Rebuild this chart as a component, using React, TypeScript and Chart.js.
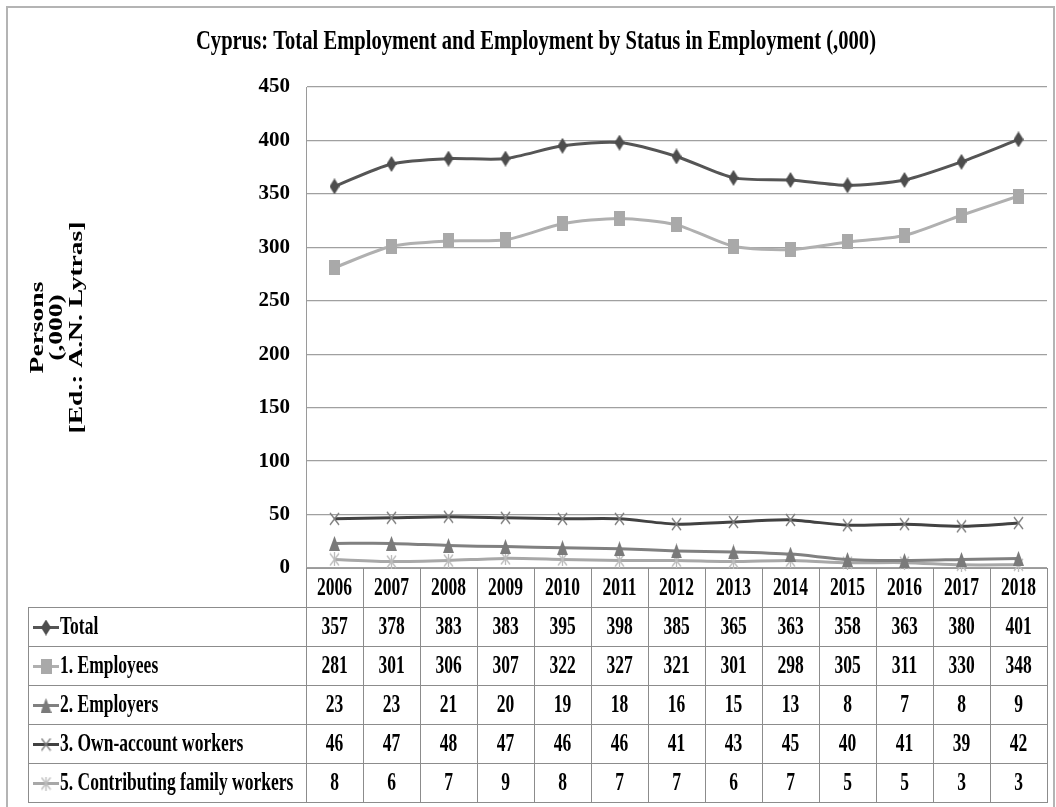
import React, { useEffect, useRef } from 'react';
import { Chart, registerables } from 'chart.js';

Chart.register(...registerables);

const TITLE = 'Cyprus: Total Employment and Employment by Status in Employment (,000)';
const Y_TITLE = ['Persons', '(,000)', '[Ed.: A.N. Lytras]'];

const years = ['2006', '2007', '2008', '2009', '2010', '2011', '2012', '2013', '2014', '2015', '2016', '2017', '2018'];
const total = [357, 378, 383, 383, 395, 398, 385, 365, 363, 358, 363, 380, 401];
const employees = [281, 301, 306, 307, 322, 327, 321, 301, 298, 305, 311, 330, 348];
const employers = [23, 23, 21, 20, 19, 18, 16, 15, 13, 8, 7, 8, 9];
const ownAccount = [46, 47, 48, 47, 46, 46, 41, 43, 45, 40, 41, 39, 42];
const familyWorkers = [8, 6, 7, 9, 8, 7, 7, 6, 7, 5, 5, 3, 3];

const seriesNames = ['Total', '1. Employees', '2. Employers', '3. Own-account workers', '5. Contributing family workers'];
const seriesValues = [total, employees, employers, ownAccount, familyWorkers];
const seriesColors = ['#555555', '#b0b0b0', '#808080', '#424242', '#a8a8a8'];
const markerColors = ['#4d4d4d', '#a9a9a9', '#7a7a7a', '#7c7c7c', '#bcbcbc'];
const markerKinds = ['diamond', 'square', 'triangle', 'x', 'star'];

const Y_MIN = 0;
const Y_MAX = 450;
const Y_STEP = 50;

const SERIF = "'Liberation Serif', 'Times New Roman', serif";

function makeMarker(kind: string, color: string): HTMLCanvasElement {
  const sizes: Record<string, [number, number]> = {
    diamond: [10, 16],
    square: [11, 15],
    triangle: [11, 15],
    x: [11, 14],
    star: [11, 14],
  };
  const [w, h] = sizes[kind];
  const c = document.createElement('canvas');
  c.width = w;
  c.height = h;
  const g = c.getContext('2d')!;
  g.fillStyle = color;
  g.strokeStyle = color;
  g.lineWidth = 1.3;
  g.beginPath();
  if (kind === 'diamond') {
    g.moveTo(w / 2, 0);
    g.lineTo(w, h / 2);
    g.lineTo(w / 2, h);
    g.lineTo(0, h / 2);
    g.closePath();
    g.fill();
  } else if (kind === 'square') {
    g.fillRect(0, 0, w, h);
  } else if (kind === 'triangle') {
    g.moveTo(w / 2, 0);
    g.lineTo(w, h);
    g.lineTo(0, h);
    g.closePath();
    g.fill();
  } else if (kind === 'x') {
    g.moveTo(1, 1);
    g.lineTo(w - 1, h - 1);
    g.moveTo(w - 1, 1);
    g.lineTo(1, h - 1);
    g.stroke();
  } else {
    g.moveTo(1, 1);
    g.lineTo(w - 1, h - 1);
    g.moveTo(w - 1, 1);
    g.lineTo(1, h - 1);
    g.moveTo(w / 2, 0);
    g.lineTo(w / 2, h);
    g.stroke();
  }
  return c;
}

function condensedText(
  ctx: CanvasRenderingContext2D,
  text: string,
  x: number,
  y: number,
  align: CanvasTextAlign,
  sx: number,
  baseline: CanvasTextBaseline = 'middle'
) {
  ctx.save();
  ctx.translate(x, y);
  ctx.scale(sx, 1);
  ctx.textAlign = align;
  ctx.textBaseline = baseline;
  ctx.fillText(text, 0, 0);
  ctx.restore();
}

export default function App() {
  const ref = useRef<HTMLCanvasElement | null>(null);

  useEffect(() => {
    const canvas = ref.current;
    if (!canvas) return;
    const markers = markerKinds.map((k, i) => makeMarker(k, markerColors[i]));

    const framePlugin = {
      id: 'frame',
      beforeDraw(chart: any) {
        const ctx = chart.ctx;
        ctx.save();
        ctx.fillStyle = '#ffffff';
        ctx.fillRect(0, 0, chart.width, chart.height);
        ctx.strokeStyle = '#b4b4b4';
        ctx.lineWidth = 2;
        ctx.strokeRect(7, 7, chart.width - 9, chart.height + 20);
        ctx.restore();
      },
    };

    const titlesPlugin = {
      id: 'titles',
      afterDraw(chart: any) {
        const ctx = chart.ctx as CanvasRenderingContext2D;
        const area = chart.chartArea;
        ctx.save();
        ctx.fillStyle = '#000000';
        // main title (condensed serif)
        ctx.font = `bold 28px ${SERIF}`;
        const tw = ctx.measureText(TITLE).width;
        condensedText(ctx, TITLE, 536, 49, 'center', 680 / tw, 'alphabetic');
        // y axis title, rotated, stretched along its length
        ctx.font = `bold 19px ${SERIF}`;
        const longest = ctx.measureText(Y_TITLE[2]).width;
        const stretch = 212 / longest;
        const cy = (area.top + area.bottom) / 2;
        const xs = [38, 57, 77];
        Y_TITLE.forEach((line, i) => {
          ctx.save();
          ctx.translate(xs[i], cy);
          ctx.rotate(-Math.PI / 2);
          ctx.scale(stretch, 1);
          ctx.textAlign = 'center';
          ctx.textBaseline = 'middle';
          ctx.fillText(line, 0, 0);
          ctx.restore();
        });
        ctx.restore();
      },
    };

    const tablePlugin = {
      id: 'dataTable',
      afterDraw(chart: any) {
        const ctx = chart.ctx as CanvasRenderingContext2D;
        const xs = chart.scales.x;
        const area = chart.chartArea;
        const n = years.length;
        const colW = xs.width / n;
        const top = area.bottom;
        const rows = seriesValues.length + 1;
        const rowH = (xs.bottom - top) / rows;
        const tableLeft = 28;
        const bottom = top + rowH * rows;

        ctx.save();
        ctx.strokeStyle = '#8c8c8c';
        ctx.lineWidth = 1;
        ctx.beginPath();
        for (let i = 0; i <= n; i++) {
          const x = Math.round(xs.left + i * colW) + 0.5;
          ctx.moveTo(x, top);
          ctx.lineTo(x, bottom);
        }
        const lx = tableLeft + 0.5;
        ctx.moveTo(lx, top + rowH);
        ctx.lineTo(lx, bottom);
        for (let r = 1; r <= rows; r++) {
          const y = Math.round(top + r * rowH) + 0.5;
          ctx.moveTo(tableLeft, y);
          ctx.lineTo(xs.right + 1, y);
        }
        ctx.stroke();

        ctx.fillStyle = '#000000';
        ctx.font = `bold 25px ${SERIF}`;
        // header row: the category labels of the x scale
        const labels = chart.data.labels as string[];
        labels.forEach((lab, i) => {
          condensedText(ctx, lab, xs.getPixelForValue(i), top + rowH / 2 + 1, 'center', 0.7);
        });
        seriesValues.forEach((vals, r) => {
          const cy = top + rowH * (r + 1) + rowH / 2 + 1;
          ctx.strokeStyle = seriesColors[r];
          ctx.lineWidth = 3;
          ctx.beginPath();
          ctx.moveTo(33, cy);
          ctx.lineTo(59, cy);
          ctx.stroke();
          const m = markers[r];
          ctx.drawImage(m, 46 - m.width / 2, cy - m.height / 2);
          ctx.fillStyle = '#000000';
          condensedText(ctx, seriesNames[r], 60, cy, 'left', 0.7);
          vals.forEach((v, i) => {
            condensedText(ctx, String(v), xs.getPixelForValue(i), cy, 'center', 0.7);
          });
        });
        ctx.restore();
      },
    };

    const chart = new Chart(canvas, {
      type: 'line',
      data: {
        labels: years,
        datasets: seriesValues.map((vals, i) => ({
          label: seriesNames[i],
          data: vals,
          borderColor: seriesColors[i],
          backgroundColor: seriesColors[i],
          borderWidth: 3,
          pointStyle: markers[i] as any,
          pointRadius: 6,
          tension: 0.25,
          clip: false as any,
        })),
      },
      options: {
        responsive: false,
        animation: false,
        layout: { padding: { left: 9, right: 1, top: 87, bottom: 5 } },
        plugins: {
          legend: { display: false },
          tooltip: { enabled: false },
          title: { display: false },
        },
        scales: {
          x: {
            type: 'category',
            offset: true,
            grid: { display: false },
            border: { display: true, color: '#9a9a9a', width: 1 },
            ticks: { display: false },
            afterFit: (s: any) => {
              s.height = 234;
            },
          },
          y: {
            min: Y_MIN,
            max: Y_MAX,
            ticks: {
              stepSize: Y_STEP,
              color: '#000000',
              font: { family: SERIF, size: 21, weight: 'bold' },
              padding: 16,
            },
            grid: { color: '#a0a0a0', drawTicks: false, lineWidth: 1.3 },
            border: { display: true, color: '#9a9a9a', width: 1 },
            afterFit: (s: any) => {
              s.width = 297;
            },
          },
        },
      },
      plugins: [framePlugin, tablePlugin, titlesPlugin],
    });

    return () => {
      chart.destroy();
    };
  }, []);

  return (
    <div style={{ position: 'absolute', left: 0, top: 0, width: 1056, height: 807, overflow: 'hidden' }}>
      <canvas ref={ref} width={1056} height={807} style={{ width: 1056, height: 807, display: 'block' }} />
    </div>
  );
}
